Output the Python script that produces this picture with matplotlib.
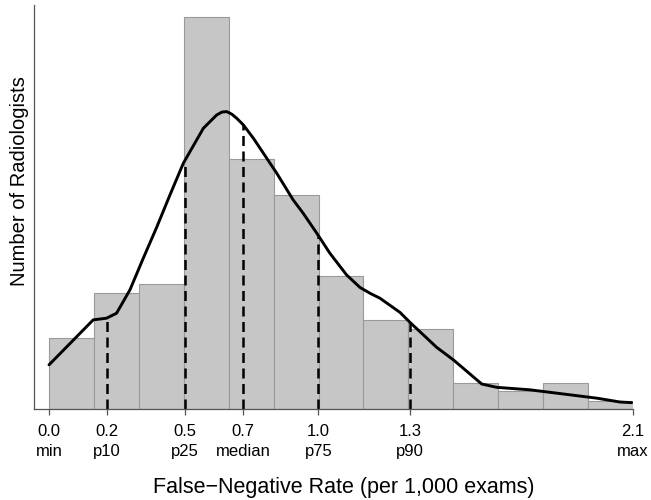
import numpy as np
import matplotlib
matplotlib.use("Agg")
import matplotlib.pyplot as plt

plt.rcParams['font.family'] = ['Liberation Sans', 'DejaVu Sans']

# ---- data ----
bin_lo, bin_hi, n_bins = 0.0, 2.1, 13
bar_heights = [8.5, 13.9, 15.0, 47.1, 30.0, 25.7, 16.0, 10.7, 9.6, 3.1, 2.2, 3.1, 1.0]

curve_x = [0.0, 0.159, 0.207, 0.243, 0.291, 0.339, 0.387, 0.435, 0.483, 0.555,
           0.603, 0.622, 0.639, 0.657, 0.675, 0.699, 0.735, 0.771, 0.819, 0.878,
           0.914, 0.963, 1.010, 1.070, 1.118, 1.154, 1.190, 1.262, 1.298, 1.394,
           1.454, 1.556, 1.610, 1.730, 1.826, 1.898, 1.970, 2.053, 2.095]
curve_y = [5.3, 10.7, 10.9, 11.5, 14.3, 18.1, 21.8, 25.7, 29.5, 33.7,
           35.3, 35.65, 35.7, 35.4, 34.9, 34.1, 32.5, 30.7, 28.3, 25.1,
           23.5, 21.1, 18.7, 16.1, 14.6, 13.9, 13.3, 11.6, 10.4, 7.4,
           5.9, 3.0, 2.6, 2.3, 1.9, 1.6, 1.3, 0.84, 0.76]

stat_values = [0.0, 0.209, 0.488, 0.698, 0.969, 1.299, 2.1]
stat_numbers = ["0.0", "0.2", "0.5", "0.7", "1.0", "1.3", "2.1"]
stat_names = ["min", "p10", "p25", "median", "p75", "p90", "max"]
dashed_stats = [0.209, 0.488, 0.698, 0.969, 1.299]

x_label = "False\u2212Negative Rate (per 1,000 exams)"
y_label = "Number of Radiologists"

# ---- figure ----
W, H = 651, 500
fig = plt.figure(figsize=(W / 100, H / 100), dpi=100)
ax_left, ax_right, ax_top, ax_bottom = 34, 633, 5, 409
ax = fig.add_axes([ax_left / W, 1 - ax_bottom / H, (ax_right - ax_left) / W, (ax_bottom - ax_top) / H])

px_per_unit = (633 - 49) / 2.1
ax.set_xlim(0 - (49 - 34) / px_per_unit, 2.1)
ax.set_ylim(0, 404 / 8.33)

edges = np.linspace(bin_lo, bin_hi, n_bins + 1)
ax.bar(edges[:-1], bar_heights, width=np.diff(edges), align='edge',
       color='#c6c6c6', edgecolor='#9a9a9a', linewidth=0.8, zorder=1)

ax.plot(curve_x, curve_y, color='black', lw=2.1, zorder=3,
        solid_capstyle='round', solid_joinstyle='round')

for v in dashed_stats:
    top = np.interp(v, curve_x, curve_y)
    ax.plot([v, v], [0, top], color='black', lw=1.8, linestyle=(0, (4, 2.2)), zorder=2)

for s in ['top', 'right']:
    ax.spines[s].set_visible(False)
for s in ['left', 'bottom']:
    ax.spines[s].set_color('#555555')
    ax.spines[s].set_linewidth(0.9)

ax.set_yticks([])
ax.set_xticks(stat_values)
ax.set_xticklabels([f"{a}\n{b}" for a, b in zip(stat_numbers, stat_names)],
                   fontsize=12, linespacing=1.45)
ax.tick_params(axis='x', direction='out', length=4.5, width=0.9, color='#555555', pad=6)

ax.set_xlabel(x_label, fontsize=15.5, va='center')
ax.set_ylabel(y_label, fontsize=14.5, va='center')
ax.xaxis.set_label_coords((344 - ax_left) / (ax_right - ax_left), -(487 - ax_bottom) / (ax_bottom - ax_top))
ax.yaxis.set_label_coords(-(34 - 20) / (ax_right - ax_left), 1 - (181 - ax_top) / (ax_bottom - ax_top))

fig.savefig("out.png", dpi=100)
